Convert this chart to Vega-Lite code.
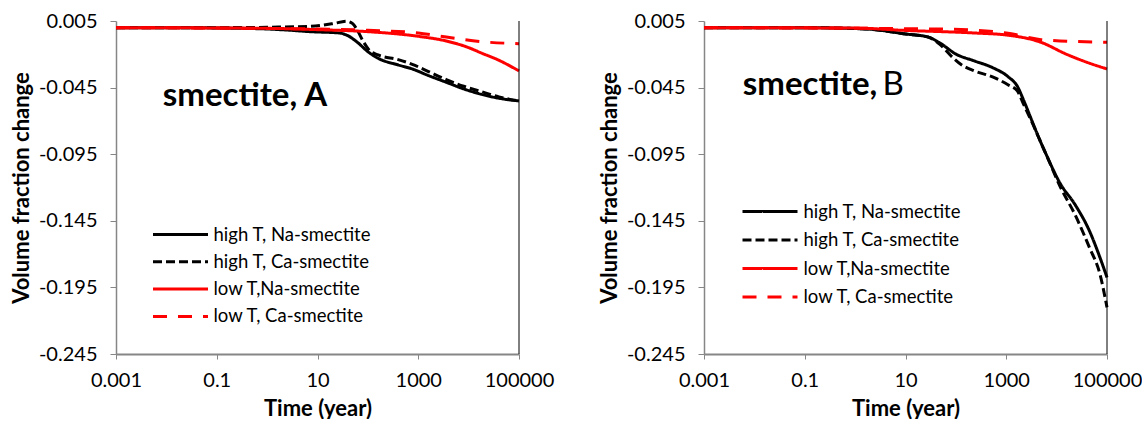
{
  "$schema": "https://vega.github.io/schema/vega-lite/v6.json",
  "padding": {"left": 10, "top": 11, "right": 5, "bottom": 0},
  "spacing": 44,
  "config": {
    "view": {"stroke": null},
    "font": "Lato",
    "axis": {
      "grid": false,
      "domainColor": "#868686",
      "tickColor": "#868686",
      "labelFont": "Lato",
      "labelFontSize": 20,
      "labelColor": "#000000",
      "labelFlush": false,
      "titleFont": "Lato",
      "titleFontSize": 22,
      "titleFontWeight": "bold",
      "titleColor": "#000000"
    },
    "legend": {
      "labelFont": "Lato",
      "labelFontSize": 18.5,
      "labelColor": "#000000",
      "symbolType": "M-2.5,0H2.5",
      "symbolStrokeWidth": 3,
      "symbolSize": 484
    }
  },
  "datasets": {
    "A": [
      {"series": "high T, Na-smectite", "t": 0.001, "v": 0},
      {"series": "high T, Na-smectite", "t": 0.01, "v": 0},
      {"series": "high T, Na-smectite", "t": 0.1, "v": -0.0002},
      {"series": "high T, Na-smectite", "t": 0.3, "v": -0.0005},
      {"series": "high T, Na-smectite", "t": 1, "v": -0.001},
      {"series": "high T, Na-smectite", "t": 3, "v": -0.002},
      {"series": "high T, Na-smectite", "t": 7, "v": -0.003},
      {"series": "high T, Na-smectite", "t": 27, "v": -0.004},
      {"series": "high T, Na-smectite", "t": 40, "v": -0.006},
      {"series": "high T, Na-smectite", "t": 62, "v": -0.011},
      {"series": "high T, Na-smectite", "t": 100, "v": -0.018},
      {"series": "high T, Na-smectite", "t": 160, "v": -0.023},
      {"series": "high T, Na-smectite", "t": 400, "v": -0.028},
      {"series": "high T, Na-smectite", "t": 760, "v": -0.031},
      {"series": "high T, Na-smectite", "t": 1600, "v": -0.036},
      {"series": "high T, Na-smectite", "t": 3600, "v": -0.041},
      {"series": "high T, Na-smectite", "t": 8000, "v": -0.046},
      {"series": "high T, Na-smectite", "t": 17800, "v": -0.05},
      {"series": "high T, Na-smectite", "t": 40000, "v": -0.053},
      {"series": "high T, Na-smectite", "t": 100000, "v": -0.055},
      {"series": "high T, Ca-smectite", "t": 0.001, "v": 0},
      {"series": "high T, Ca-smectite", "t": 0.1, "v": 0},
      {"series": "high T, Ca-smectite", "t": 1, "v": 0.0003},
      {"series": "high T, Ca-smectite", "t": 7, "v": 0.001},
      {"series": "high T, Ca-smectite", "t": 20, "v": 0.003},
      {"series": "high T, Ca-smectite", "t": 38, "v": 0.0048},
      {"series": "high T, Ca-smectite", "t": 50, "v": 0.003},
      {"series": "high T, Ca-smectite", "t": 62, "v": -0.002},
      {"series": "high T, Ca-smectite", "t": 80, "v": -0.01},
      {"series": "high T, Ca-smectite", "t": 107, "v": -0.017},
      {"series": "high T, Ca-smectite", "t": 160, "v": -0.0205},
      {"series": "high T, Ca-smectite", "t": 400, "v": -0.024},
      {"series": "high T, Ca-smectite", "t": 760, "v": -0.0275},
      {"series": "high T, Ca-smectite", "t": 1600, "v": -0.033},
      {"series": "high T, Ca-smectite", "t": 3600, "v": -0.039},
      {"series": "high T, Ca-smectite", "t": 8000, "v": -0.044},
      {"series": "high T, Ca-smectite", "t": 17800, "v": -0.048},
      {"series": "high T, Ca-smectite", "t": 40000, "v": -0.052},
      {"series": "high T, Ca-smectite", "t": 100000, "v": -0.055},
      {"series": "low T,Na-smectite", "t": 0.001, "v": 0},
      {"series": "low T,Na-smectite", "t": 1, "v": -0.0005},
      {"series": "low T,Na-smectite", "t": 10, "v": -0.0015},
      {"series": "low T,Na-smectite", "t": 100, "v": -0.003},
      {"series": "low T,Na-smectite", "t": 1000, "v": -0.0065},
      {"series": "low T,Na-smectite", "t": 3600, "v": -0.01},
      {"series": "low T,Na-smectite", "t": 10000, "v": -0.015},
      {"series": "low T,Na-smectite", "t": 17800, "v": -0.019},
      {"series": "low T,Na-smectite", "t": 40000, "v": -0.0245},
      {"series": "low T,Na-smectite", "t": 100000, "v": -0.0325},
      {"series": "low T, Ca-smectite", "t": 0.001, "v": 0},
      {"series": "low T, Ca-smectite", "t": 10, "v": -0.001},
      {"series": "low T, Ca-smectite", "t": 100, "v": -0.002},
      {"series": "low T, Ca-smectite", "t": 1000, "v": -0.004},
      {"series": "low T, Ca-smectite", "t": 3600, "v": -0.007},
      {"series": "low T, Ca-smectite", "t": 17800, "v": -0.0105},
      {"series": "low T, Ca-smectite", "t": 100000, "v": -0.012}
    ],
    "B": [
      {"series": "high T, Na-smectite", "t": 0.001, "v": 0},
      {"series": "high T, Na-smectite", "t": 0.1, "v": 0},
      {"series": "high T, Na-smectite", "t": 1.7, "v": -0.001},
      {"series": "high T, Na-smectite", "t": 5, "v": -0.003},
      {"series": "high T, Na-smectite", "t": 9, "v": -0.0045},
      {"series": "high T, Na-smectite", "t": 28, "v": -0.007},
      {"series": "high T, Na-smectite", "t": 46, "v": -0.011},
      {"series": "high T, Na-smectite", "t": 102, "v": -0.02},
      {"series": "high T, Na-smectite", "t": 234, "v": -0.025},
      {"series": "high T, Na-smectite", "t": 535, "v": -0.03},
      {"series": "high T, Na-smectite", "t": 1100, "v": -0.037},
      {"series": "high T, Na-smectite", "t": 1660, "v": -0.044},
      {"series": "high T, Na-smectite", "t": 2240, "v": -0.055},
      {"series": "high T, Na-smectite", "t": 3240, "v": -0.07},
      {"series": "high T, Na-smectite", "t": 4470, "v": -0.083},
      {"series": "high T, Na-smectite", "t": 6170, "v": -0.095},
      {"series": "high T, Na-smectite", "t": 12000, "v": -0.1175},
      {"series": "high T, Na-smectite", "t": 22900, "v": -0.1325},
      {"series": "high T, Na-smectite", "t": 44700, "v": -0.1525},
      {"series": "high T, Na-smectite", "t": 72400, "v": -0.1725},
      {"series": "high T, Na-smectite", "t": 100000, "v": -0.1875},
      {"series": "high T, Ca-smectite", "t": 0.001, "v": 0},
      {"series": "high T, Ca-smectite", "t": 0.1, "v": 0},
      {"series": "high T, Ca-smectite", "t": 1.7, "v": -0.001},
      {"series": "high T, Ca-smectite", "t": 5, "v": -0.003},
      {"series": "high T, Ca-smectite", "t": 9, "v": -0.0045},
      {"series": "high T, Ca-smectite", "t": 28, "v": -0.007},
      {"series": "high T, Ca-smectite", "t": 46, "v": -0.012},
      {"series": "high T, Ca-smectite", "t": 87, "v": -0.0225},
      {"series": "high T, Ca-smectite", "t": 125, "v": -0.0275},
      {"series": "high T, Ca-smectite", "t": 234, "v": -0.0325},
      {"series": "high T, Ca-smectite", "t": 535, "v": -0.037},
      {"series": "high T, Ca-smectite", "t": 1100, "v": -0.043},
      {"series": "high T, Ca-smectite", "t": 1660, "v": -0.0475},
      {"series": "high T, Ca-smectite", "t": 2240, "v": -0.058},
      {"series": "high T, Ca-smectite", "t": 3240, "v": -0.071},
      {"series": "high T, Ca-smectite", "t": 4470, "v": -0.083},
      {"series": "high T, Ca-smectite", "t": 6170, "v": -0.095},
      {"series": "high T, Ca-smectite", "t": 12000, "v": -0.12},
      {"series": "high T, Ca-smectite", "t": 22900, "v": -0.14},
      {"series": "high T, Ca-smectite", "t": 44700, "v": -0.165},
      {"series": "high T, Ca-smectite", "t": 72400, "v": -0.185},
      {"series": "high T, Ca-smectite", "t": 100000, "v": -0.21},
      {"series": "low T,Na-smectite", "t": 0.001, "v": 0},
      {"series": "low T,Na-smectite", "t": 1, "v": -0.0003},
      {"series": "low T,Na-smectite", "t": 9, "v": -0.002},
      {"series": "low T,Na-smectite", "t": 234, "v": -0.004},
      {"series": "low T,Na-smectite", "t": 1000, "v": -0.0055},
      {"series": "low T,Na-smectite", "t": 4900, "v": -0.011},
      {"series": "low T,Na-smectite", "t": 15800, "v": -0.02},
      {"series": "low T,Na-smectite", "t": 40000, "v": -0.026},
      {"series": "low T,Na-smectite", "t": 100000, "v": -0.031},
      {"series": "low T, Ca-smectite", "t": 0.001, "v": 0},
      {"series": "low T, Ca-smectite", "t": 46, "v": -0.001},
      {"series": "low T, Ca-smectite", "t": 1000, "v": -0.004},
      {"series": "low T, Ca-smectite", "t": 4900, "v": -0.009},
      {"series": "low T, Ca-smectite", "t": 100000, "v": -0.011}
    ]
  },
  "resolve": {
    "scale": {"color": "independent", "strokeDash": "independent"},
    "legend": {"color": "independent", "strokeDash": "independent"}
  },
  "hconcat": [
    {
      "width": 403,
      "height": 333,
      "layer": [
        {
          "data": {"name": "A"},
          "mark": {"type": "line", "interpolate": "monotone", "strokeWidth": 3, "strokeCap": "butt"},
          "encoding": {
            "x": {"field": "t", "type": "quantitative", "scale": {"type": "log", "domain": [0.001, 100000], "nice": false},
                  "axis": {"title": "Time (year)", "values": [0.001, 0.1, 10, 1000, 100000], "format": "~g", "tickSize": 5, "labelPadding": 11, "titlePadding": 8, "domainWidth": 2}},
            "y": {"field": "v", "type": "quantitative", "scale": {"domain": [-0.245, 0.005], "nice": false, "zero": false},
                  "axis": {"title": "Volume fraction change", "values": [-0.245, -0.195, -0.145, -0.095, -0.045, 0.005], "labelExpr": "replace(format(datum.value, '.3f'), '\u2212', '-')", "tickSize": 6, "labelPadding": 13, "titlePadding": 5, "domainWidth": 1.5}},
            "color": {"field": "series", "type": "nominal",
                      "scale": {"domain": ["high T, Na-smectite", "high T, Ca-smectite", "low T,Na-smectite", "low T, Ca-smectite"], "range": ["#000000", "#000000", "#ff0000", "#ff0000"]},
                      "legend": {"title": null, "orient": "none", "legendX": 52, "legendY": 201, "rowPadding": 5.3, "labelOffset": 20.5}},
            "strokeDash": {"field": "series", "type": "nominal",
                      "scale": {"domain": ["high T, Na-smectite", "high T, Ca-smectite", "low T,Na-smectite", "low T, Ca-smectite"], "range": [[1, 0], [9, 4], [1, 0], [14, 11]]},
                      "legend": {"title": null, "orient": "none", "legendX": 52, "legendY": 201, "rowPadding": 5.3, "labelOffset": 20.5}}
          }
        },
        {
          "data": {"values": [{}]},
          "mark": {"type": "rule", "color": "#000000", "strokeWidth": 1},
          "encoding": {"x": {"datum": 100000, "type": "quantitative"}}
        },
        {
          "data": {"values": [{}]},
          "mark": {"type": "text", "text": "smectite, A", "font": "Lato", "fontSize": 33, "fontWeight": "bold", "align": "left", "baseline": "alphabetic", "color": "#000000"},
          "encoding": {"x": {"datum": 0.0085, "type": "quantitative"}, "y": {"datum": -0.0588, "type": "quantitative"}}
        }
      ]
    },
    {
      "width": 403,
      "height": 333,
      "layer": [
        {
          "data": {"name": "B"},
          "mark": {"type": "line", "interpolate": "monotone", "strokeWidth": 3, "strokeCap": "butt"},
          "encoding": {
            "x": {"field": "t", "type": "quantitative", "scale": {"type": "log", "domain": [0.001, 100000], "nice": false},
                  "axis": {"title": "Time (year)", "values": [0.001, 0.1, 10, 1000, 100000], "format": "~g", "tickSize": 5, "labelPadding": 11, "titlePadding": 8, "domainWidth": 2}},
            "y": {"field": "v", "type": "quantitative", "scale": {"domain": [-0.245, 0.005], "nice": false, "zero": false},
                  "axis": {"title": "Volume fraction change", "values": [-0.245, -0.195, -0.145, -0.095, -0.045, 0.005], "labelExpr": "replace(format(datum.value, '.3f'), '\u2212', '-')", "tickSize": 6, "labelPadding": 13, "titlePadding": 5, "domainWidth": 1.5}},
            "color": {"field": "series", "type": "nominal",
                      "scale": {"domain": ["high T, Na-smectite", "high T, Ca-smectite", "low T,Na-smectite", "low T, Ca-smectite"], "range": ["#000000", "#000000", "#ff0000", "#ff0000"]},
                      "legend": {"title": null, "orient": "none", "legendX": 53.5, "legendY": 178, "rowPadding": 6.5, "labelOffset": 21}},
            "strokeDash": {"field": "series", "type": "nominal",
                      "scale": {"domain": ["high T, Na-smectite", "high T, Ca-smectite", "low T,Na-smectite", "low T, Ca-smectite"], "range": [[1, 0], [9, 4], [1, 0], [14, 11]]},
                      "legend": {"title": null, "orient": "none", "legendX": 53.5, "legendY": 178, "rowPadding": 6.5, "labelOffset": 21}}
          }
        },
        {
          "data": {"values": [{}]},
          "mark": {"type": "rule", "color": "#000000", "strokeWidth": 1},
          "encoding": {"x": {"datum": 100000, "type": "quantitative"}}
        },
        {
          "data": {"values": [{}]},
          "mark": {"type": "text", "text": "smectite,", "font": "Lato", "fontSize": 33, "fontWeight": "bold", "align": "left", "baseline": "alphabetic", "color": "#000000"},
          "encoding": {"x": {"datum": 0.0059, "type": "quantitative"}, "y": {"datum": -0.0506, "type": "quantitative"}}
        },
        {
          "data": {"values": [{}]},
          "mark": {"type": "text", "text": "B", "font": "Lato", "fontSize": 33, "fontWeight": "normal", "align": "left", "baseline": "alphabetic", "color": "#000000"},
          "encoding": {"x": {"datum": 3.5, "type": "quantitative"}, "y": {"datum": -0.0506, "type": "quantitative"}}
        }
      ]
    }
  ]
}
